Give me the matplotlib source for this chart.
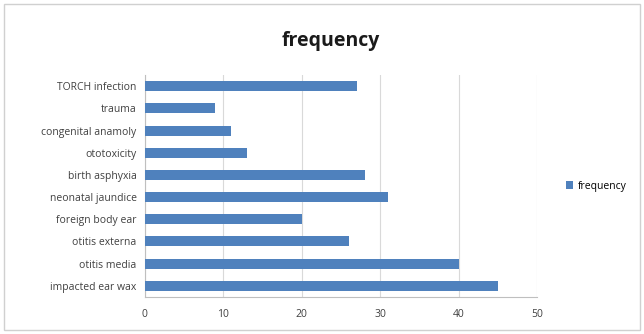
import matplotlib.pyplot as plt
from matplotlib.patches import Rectangle

# data
causes = ['impacted ear wax', 'otitis media', 'otitis externa', 'foreign body ear',
          'neonatal jaundice', 'birth asphyxia', 'ototoxicity', 'congenital anamoly',
          'trauma', 'TORCH infection']
frequency = [45, 40, 26, 20, 31, 28, 13, 11, 9, 27]
xticks = [0, 10, 20, 30, 40, 50]

plt.rcParams['font.family'] = ['Open Sans', 'DejaVu Sans']

fig = plt.figure(figsize=(6.44, 3.34), dpi=100)
fig.patch.set_facecolor('white')
fig.patches.append(Rectangle((0.006, 0.012), 0.988, 0.976, transform=fig.transFigure,
                             fill=False, edgecolor='#d0d0d0', linewidth=1))

ax = fig.add_axes([0.225, 0.111, 0.609, 0.664])
ax.barh(causes, frequency, height=0.45, color='#4f81bd', label='frequency', zorder=3)
ax.set_xlim(0, 50)
ax.set_ylim(-0.5, len(causes) - 0.5)
ax.set_xticks(xticks)
ax.xaxis.grid(True, color='#d9d9d9', linewidth=0.8, zorder=0)
for s in ['top', 'right']:
    ax.spines[s].set_visible(False)
ax.spines['left'].set_color('#bfbfbf')
ax.spines['bottom'].set_color('#bfbfbf')
ax.tick_params(axis='both', labelsize=7.5, colors='#404040', length=0, pad=6)
ax.tick_params(axis='x', pad=9)

fig.text(0.513, 0.878, 'frequency', ha='center', va='center', fontsize=14,
         fontweight='bold', color='#1a1a1a')
ax.legend(loc='center left', bbox_to_anchor=(1.05, 0.5), frameon=False,
          fontsize=7.5, handlelength=0.7, handleheight=0.7, handletextpad=0.4)

fig.savefig('out.png', dpi=100)
